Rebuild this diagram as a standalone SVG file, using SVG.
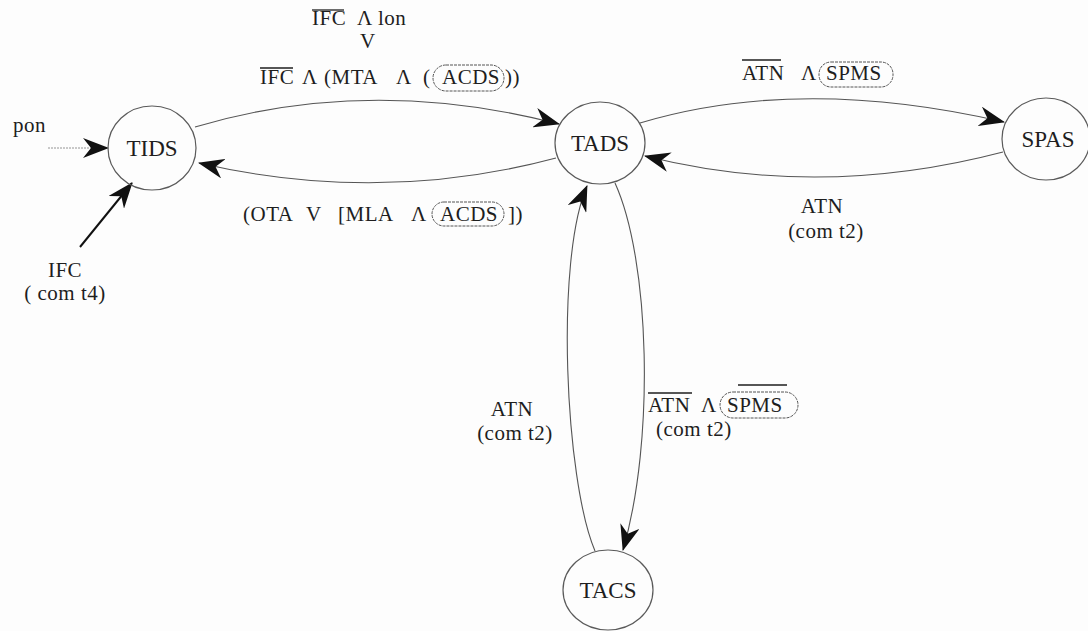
<svg xmlns="http://www.w3.org/2000/svg" width="1088" height="631" viewBox="0 0 1088 631">
<style>
.node{fill:none;stroke:#5a5a5a;stroke-width:1.2}
.edge{fill:none;stroke:#555;stroke-width:1.1}
text{font-family:'Liberation Serif','DejaVu Serif','Times New Roman',serif;fill:#1e1e1e}
.lbl{font-size:21px;letter-spacing:0.5px}
.nl{font-size:23px;text-anchor:middle}
.ov{stroke:#1e1e1e;stroke-width:1.3}
.box{fill:none;stroke:#555;stroke-width:1;stroke-dasharray:3 1}
</style>
<defs>
<marker id="ah" viewBox="0 0 26 20" refX="25" refY="10" markerWidth="26" markerHeight="20" markerUnits="userSpaceOnUse" orient="auto">
<path d="M0,0 L26,10 L0,20 L8,10 Z" fill="#111"/>
</marker>
</defs>
<rect width="1088" height="631" fill="#fdfdfd"/>
<g id="connectors">
<path class="edge" d="M195,127 Q370,75 559,124" marker-end="url(#ah)"/>
<path class="edge" d="M556,158 Q380,205 199,163" marker-end="url(#ah)"/>
<path class="edge" d="M640,123 Q800,75 1004,122" marker-end="url(#ah)"/>
<path class="edge" d="M1003,152 Q820,200 645,156" marker-end="url(#ah)"/>
<path class="edge" d="M615,183 C650,260 655,440 623,550" marker-end="url(#ah)"/>
<path class="edge" d="M595,551 C565,480 555,260 587,186" marker-end="url(#ah)"/>
<path d="M48,148 L108,148" fill="none" stroke="#888" stroke-width="0.9" stroke-dasharray="2 1" marker-end="url(#ah)"/>
<path d="M80,247 L132,183" fill="none" stroke="#111" stroke-width="2" marker-end="url(#ah)"/>
</g>
<g id="node-TIDS"><ellipse class="node" cx="152" cy="148" rx="44" ry="42"/><text class="nl" x="152" y="156" font-family="Liberation Serif, serif">TIDS</text></g>
<g id="node-TADS"><ellipse class="node" cx="600" cy="143" rx="45" ry="41"/><text class="nl" x="600" y="151" font-family="Liberation Serif, serif">TADS</text></g>
<g id="node-SPAS"><ellipse class="node" cx="1046" cy="139" rx="44" ry="41"/><text class="nl" x="1048" y="147" font-family="Liberation Serif, serif">SPAS</text></g>
<g id="node-TACS"><ellipse class="node" cx="608" cy="590" rx="45" ry="40"/><text class="nl" x="608" y="598" font-family="Liberation Serif, serif">TACS</text></g>
<g id="labels" font-family="Liberation Serif, serif">
<text class="lbl" x="13" y="132">pon</text>
<text class="lbl" x="312" y="25">IFC</text><line class="ov" x1="312" y1="10" x2="344" y2="10"/>
<text class="lbl" x="357" y="25">Λ</text><text class="lbl" x="378" y="25">lon</text>
<text class="lbl" x="360" y="48">V</text>
<text class="lbl" x="260" y="84">IFC</text><line class="ov" x1="260" y1="68" x2="293" y2="68"/>
<text class="lbl" x="302" y="84">Λ</text><text class="lbl" x="324" y="84">(MTA</text>
<text class="lbl" x="396" y="84">Λ</text><text class="lbl" x="423" y="84">(</text>
<rect class="box" x="433" y="65" width="71" height="26" rx="13"/>
<text class="lbl" x="442" y="84">ACDS</text><text class="lbl" x="505" y="84">))</text>
<text class="lbl" x="742" y="80">ATN</text><line class="ov" x1="742" y1="60" x2="781" y2="60"/>
<text class="lbl" x="801" y="80">Λ</text>
<rect class="box" x="819" y="62" width="74" height="25" rx="12"/>
<text class="lbl" x="826" y="80">SPMS</text>
<text class="lbl" x="243" y="221">(OTA</text><text class="lbl" x="306" y="221">V</text>
<text class="lbl" x="338" y="221">[MLA</text><text class="lbl" x="411" y="221">Λ</text>
<rect class="box" x="432" y="202" width="72" height="24" rx="12"/>
<text class="lbl" x="440" y="221">ACDS</text><text class="lbl" x="508" y="221">])</text>
<text class="lbl" x="822" y="213" text-anchor="middle">ATN</text>
<text class="lbl" x="826" y="238" text-anchor="middle">(com t2)</text>
<text class="lbl" x="65" y="277" text-anchor="middle">IFC</text>
<text class="lbl" x="65" y="300" text-anchor="middle">( com t4)</text>
<text class="lbl" x="512" y="416" text-anchor="middle">ATN</text>
<text class="lbl" x="515" y="440" text-anchor="middle">(com t2)</text>
<text class="lbl" x="648" y="412">ATN</text><line class="ov" x1="648" y1="393" x2="692" y2="393"/>
<text class="lbl" x="701" y="412">Λ</text>
<rect class="box" x="720" y="392" width="78" height="26" rx="13"/>
<text class="lbl" x="727" y="412">SPMS</text><line class="ov" x1="738" y1="385" x2="787" y2="385"/>
<text class="lbl" x="656" y="436">(com t2)</text>
</g>
</svg>
